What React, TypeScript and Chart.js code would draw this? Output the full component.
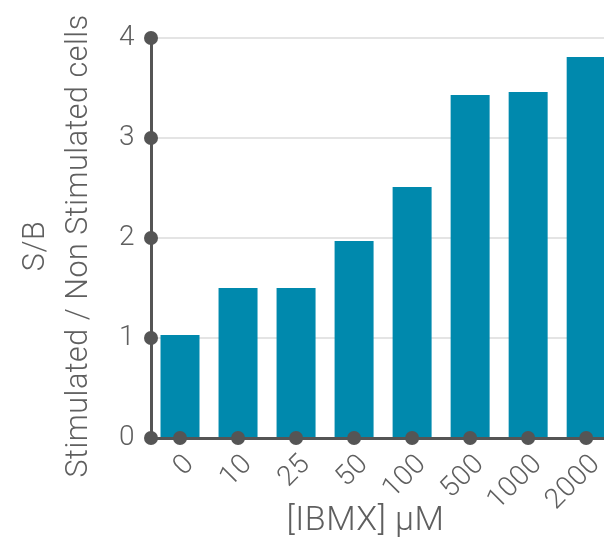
import React, { useEffect, useRef } from "react";
import { Chart, registerables } from "chart.js";

Chart.register(...registerables);

const categories = ["0", "10", "25", "50", "100", "500", "1000", "2000"];
const sbValues = [1.03, 1.5, 1.5, 1.97, 2.51, 3.43, 3.46, 3.81];
const yTicks = [0, 1, 2, 3, 4];
const yTitle = ["S/B  ", "Stimulated / Non Stimulated cells  "];
const xTitle = "[IBMX] µM    ";

const FONT = "Roboto, 'Liberation Sans', sans-serif";
const AXIS = "#555555";
const TEXT = "#5f5f5f";
const BAR = "#0089AD";

const spacingPlugin = {
  id: "letterSpacing",
  beforeUpdate(chart: any) {
    chart.ctx.letterSpacing = "0.5px";
  },
  beforeDraw(chart: any) {
    chart.ctx.letterSpacing = "0.5px";
  },
};

const dotsPlugin = {
  id: "axisDots",
  afterDraw(chart: any) {
    const { ctx, scales } = chart;
    const x = scales.x;
    const y = scales.y;
    ctx.save();
    ctx.fillStyle = AXIS;
    const r = 7;
    yTicks.forEach((v) => {
      ctx.beginPath();
      ctx.arc(x.left, y.getPixelForValue(v), r, 0, Math.PI * 2);
      ctx.fill();
    });
    categories.forEach((_, i) => {
      ctx.beginPath();
      ctx.arc(x.getPixelForValue(i), y.bottom, r, 0, Math.PI * 2);
      ctx.fill();
    });
    ctx.restore();
  },
};

export default function App() {
  const ref = useRef<HTMLCanvasElement>(null);
  useEffect(() => {
    if (!ref.current) return;
    const chart = new Chart(ref.current, {
      type: "bar",
      data: {
        labels: categories,
        datasets: [
          {
            data: sbValues,
            backgroundColor: BAR,
            categoryPercentage: 0.8,
            barPercentage: 0.84,
          },
        ],
      },
      options: {
        animation: false,
        responsive: false,
        layout: { padding: { top: 38, right: 1, left: 0, bottom: 0 } },
        plugins: { legend: { display: false }, tooltip: { enabled: false } },
        scales: {
          x: {
            z: 1,
            grid: { display: false, drawTicks: false },
            border: { display: true, color: AXIS, width: 3 },
            ticks: {
              color: TEXT,
              font: { family: FONT, size: 28, weight: "300" },
              minRotation: 45,
              maxRotation: 45,
              padding: 10,
              labelOffset: 10,
            },
            title: {
              display: true,
              text: xTitle,
              color: TEXT,
              font: { family: FONT, size: 34, weight: "300", lineHeight: 1.2 },
              padding: { top: 0, bottom: 1 },
            },
            afterFit(scale: any) {
              scale.height = 105;
            },
          },
          y: {
            z: 1,
            min: 0,
            max: 4,
            afterBuildTicks(scale: any) {
              scale.ticks = yTicks.map((v) => ({ value: v }));
            },
            grid: { color: "#e4e4e4", lineWidth: 2, drawTicks: false },
            border: { display: true, color: AXIS, width: 3 },
            ticks: {
              color: TEXT,
              font: { family: FONT, size: 28, weight: "300" },
              padding: 16,
            },
            title: {
              display: true,
              text: yTitle,
              color: TEXT,
              font: { family: FONT, size: 30.5, weight: "300", lineHeight: 1.41 },
              padding: { top: 15, bottom: 0 },
            },
            afterFit(scale: any) {
              scale.width = 151;
            },
          },
        },
      },
      plugins: [spacingPlugin, dotsPlugin],
    });
    return () => chart.destroy();
  }, []);
  return (
    <div
      style={{
        position: "fixed",
        left: 0,
        top: 0,
        width: 604,
        height: 543,
        overflow: "hidden",
        background: "#fff",
      }}
    >
      <canvas ref={ref} width={620} height={543} style={{ display: "block" }} />
    </div>
  );
}
